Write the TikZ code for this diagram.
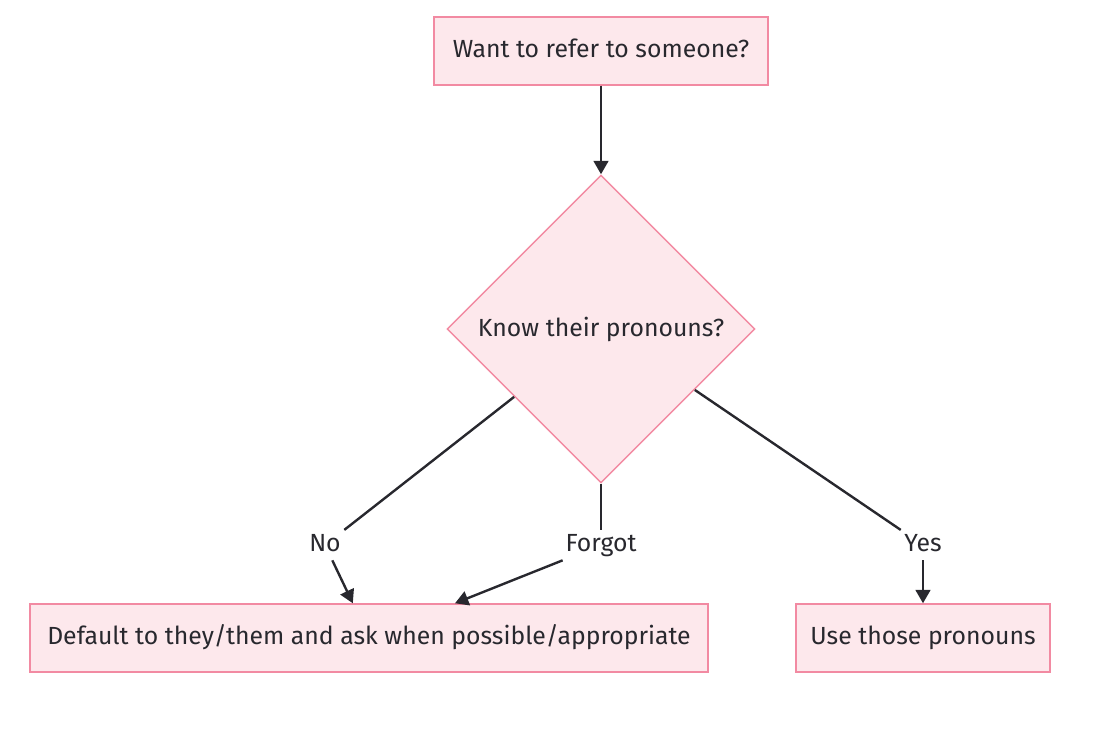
\documentclass[tikz,border=0pt]{standalone}
\usepackage{fontspec}
\setmainfont{Fira Sans}
\usetikzlibrary{shapes.geometric,arrows.meta}

\definecolor{nodefill}{RGB}{253,232,236}
\definecolor{nodeline}{RGB}{242,138,162}
\definecolor{edgeline}{RGB}{40,40,46}

\tikzset{
  flowbox/.style={draw=nodeline,fill=nodefill,line width=1.1pt,minimum height=51pt,inner sep=0pt,text height=13.4pt,text depth=4.2pt,font=\fontsize{18.6}{22}\selectfont,text=edgeline},
  flowdia/.style={diamond,draw=nodeline,fill=nodefill,line width=1.1pt,minimum width=231pt,minimum height=231pt,inner sep=0pt,font=\fontsize{18.6}{22}\selectfont,text=edgeline},
  edgelabel/.style={fill=white,inner sep=2.5pt,text height=13.4pt,text depth=4.2pt,font=\fontsize{18.6}{22}\selectfont,text=edgeline},
  flowedge/.style={draw=edgeline,line width=1.8pt},
  flowarrow/.style={flowedge,-{Triangle[length=10pt,width=11pt]}}
}

\begin{document}
\begin{tikzpicture}[x=0.75pt,y=0.75pt,yscale=-1,xscale=1]
\useasboundingbox (0,0) rectangle (1093,729);

% Nodes
\node [flowbox,minimum width=250.5pt] (refer) at (601,51) {Want to refer to someone?};
\node [flowdia] (know) at (601,329) {Know their pronouns?};
\node [flowbox,minimum width=508.5pt] (default) at (369,638) {Default to they/them and ask when possible/appropriate};
\node [flowbox,minimum width=190.5pt] (use) at (923,638) {Use those pronouns};

% Edge labels
\node [edgelabel] (no) at (325,545) {No};
\node [edgelabel] (forgot) at (601,545) {Forgot};
\node [edgelabel] (yes) at (923,545) {Yes};

% Edges
\draw [flowarrow] (refer) -- (know);
\draw [flowedge] (know.-142) -- (no);
\draw [flowarrow] (no) -- (default.115);
\draw [flowedge] (know.south) -- (forgot);
\draw [flowarrow] (forgot) -- (default.22);
\draw [flowedge] (know.-33) -- (yes);
\draw [flowarrow] (yes) -- (use.north);

\end{tikzpicture}
\end{document}
